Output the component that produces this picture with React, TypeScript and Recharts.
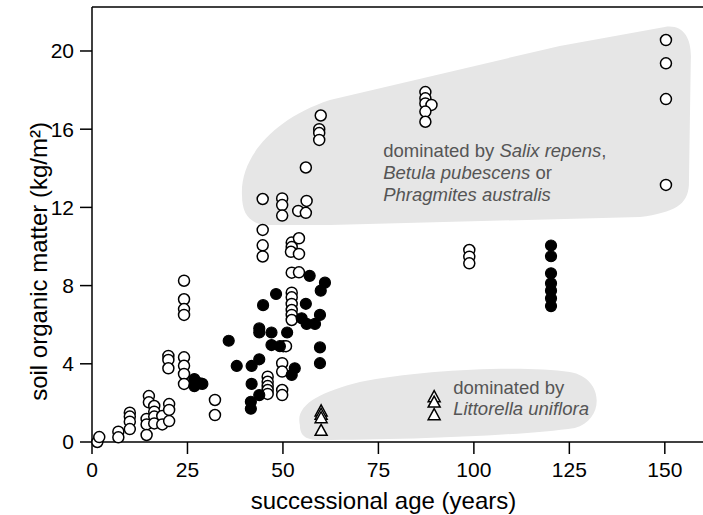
import React from 'react';
import { ScatterChart, Scatter, XAxis, YAxis, ReferenceArea, ReferenceLine } from 'recharts';

// ---- axes ----
const X_TICKS = [0, 25, 50, 75, 100, 125, 150];
const Y_TICKS = [0, 4, 8, 12, 16, 20];
const X_MAX = 160;
const Y_MAX = 22.25;

// ---- data: [successional age (years), soil organic matter (kg/m2)] ----
const openCircles: [number, number][] = [
  [1.4, 0.0], [1.9, 0.25], [6.9, 0.53], [6.9, 0.24],
  [9.9, 1.5], [9.9, 1.3], [9.9, 1.04], [9.9, 0.66],
  [14.9, 2.35], [14.9, 2.03], [14.3, 1.18], [14.3, 0.9], [14.3, 0.36],
  [16.3, 1.84], [16.3, 1.55], [16.3, 1.3], [16.3, 0.95],
  [18.4, 1.33], [18.4, 0.9],
  [20.2, 1.94], [20.2, 1.64], [20.2, 1.07],
  [20.0, 4.4], [20.0, 4.2], [20.0, 3.77],
  [24.1, 8.25], [24.1, 7.3], [24.1, 6.8], [24.1, 6.5], [24.1, 4.33], [24.1, 3.9], [24.1, 3.48], [24.1, 2.97],
  [32.2, 2.15], [32.2, 1.38],
  [44.7, 12.43], [49.8, 12.46], [49.8, 12.12], [49.8, 11.58], [56.2, 12.33], [54.0, 11.82], [56.0, 11.72],
  [59.9, 16.7], [59.5, 16.0], [59.5, 15.8], [59.5, 15.45], [56.0, 14.04],
  [44.7, 10.85], [44.7, 10.06], [44.7, 9.49],
  [52.3, 10.2], [52.3, 9.97], [52.1, 9.73], [54.2, 10.42], [54.2, 9.62],
  [52.3, 8.66], [54.2, 8.68],
  [52.3, 7.64], [52.3, 7.4], [52.3, 7.06], [52.3, 6.75], [52.3, 6.5], [52.3, 6.24],
  [50.1, 4.9], [50.8, 4.9],
  [49.8, 4.03], [49.8, 3.6],
  [46.0, 3.34], [46.0, 3.08], [46.0, 2.86], [46.0, 2.66], [46.0, 2.46],
  [49.8, 2.66], [49.8, 2.4],
  [87.3, 17.9], [87.3, 17.58], [87.3, 17.32], [88.9, 17.24], [87.3, 16.9], [87.3, 16.38],
  [98.8, 9.82], [98.8, 9.48], [98.8, 9.14],
  [150.3, 20.56], [150.3, 19.37], [150.3, 17.54], [150.3, 13.15],
];

const filledCircles: [number, number][] = [
  [26.8, 3.22], [26.8, 2.86], [28.3, 3.0], [28.9, 2.97],
  [35.8, 5.18], [37.9, 3.89],
  [41.8, 3.89], [41.8, 2.97], [41.6, 2.06], [41.6, 1.7],
  [43.8, 4.23], [43.8, 2.4], [43.8, 5.81], [43.8, 5.6],
  [44.8, 7.0], [48.2, 7.57],
  [47.0, 5.6], [47.0, 4.96], [49.2, 4.9], [51.1, 5.6],
  [53.1, 3.77], [52.3, 3.43],
  [57.0, 8.5], [61.0, 8.15], [59.9, 7.74], [56.0, 7.07],
  [59.7, 6.5], [54.9, 6.33], [56.2, 6.04], [58.4, 6.04],
  [59.7, 4.84], [59.7, 4.03],
  [120.2, 10.05], [120.2, 9.5], [120.2, 8.63], [120.2, 8.12], [120.2, 7.74], [120.2, 7.35], [120.2, 6.95],
];

const triangles: [number, number][] = [
  [60.0, 1.59], [60.0, 1.42], [60.0, 1.24], [60.0, 0.6],
  [89.6, 2.32], [89.6, 2.04], [89.6, 1.4],
];

// ---- shaded regions (data coordinates) ----
type Seg = [string, ...[number, number][]];
const upperBlob: Seg[] = [
  ['M', [39.27, 12.63]],
  ['C', [38.74, 14.42], [46.6, 16.47], [62.3, 17.49]],
  ['L', [122.5, 20.26]],
  ['L', [150.0, 21.23]],
  ['C', [155.2, 21.38], [157.1, 20.56], [156.8, 19.54]],
  ['L', [156.3, 13.15]],
  ['C', [156.0, 12.12], [152.6, 11.76], [143.5, 11.51]],
  ['L', [62.3, 11.1]],
  ['L', [46.6, 11.1]],
  ['C', [41.4, 11.1], [39.27, 11.61], [39.27, 12.63]],
];
const lowerBlob: Seg[] = [
  ['M', [54.45, 0.87]],
  ['C', [53.14, 1.89], [59.69, 2.56], [70.16, 3.07]],
  ['C', [85.86, 3.68], [112.04, 3.94], [125.13, 3.58]],
  ['C', [134.29, 3.27], [134.29, 1.13], [126.44, 0.72]],
  ['C', [112.04, 0.31], [80.63, 0.1], [59.69, 0.1]],
  ['C', [55.76, 0.1], [54.45, 0.36], [54.45, 0.87]],
];

const FONT = '"Liberation Sans", Arial, Helvetica, sans-serif';

const toData = (arr: [number, number][]) => arr.map(([age, som]) => ({ age, som }));

const OpenCircle = (p: any) => (
  <circle cx={p.cx} cy={p.cy} r={5.5} fill="#fff" stroke="#000" strokeWidth={1.5} />
);
const FilledCircle = (p: any) => (
  <circle cx={p.cx} cy={p.cy} r={5.5} fill="#000" stroke="#000" strokeWidth={1.2} />
);
const Triangle = (p: any) => (
  <path
    d={`M${p.cx},${p.cy - 6} L${p.cx + 6},${p.cy + 5} L${p.cx - 6},${p.cy + 5} Z`}
    fill="#fff"
    stroke="#000"
    strokeWidth={1.5}
    strokeLinejoin="miter"
  />
);

const Regions = (props: any) => {
  const { x, y, width, height } = props;
  const sx = (v: number) => x + (v / X_MAX) * width;
  const sy = (v: number) => y + ((Y_MAX - v) / Y_MAX) * height;
  const toPath = (segs: Seg[]) =>
    segs
      .map(([cmd, ...pts]) => cmd + pts.map(([a, b]) => `${sx(a).toFixed(1)},${sy(b).toFixed(1)}`).join(' '))
      .join(' ') + ' Z';
  const ts = { fontSize: 18.5, fill: '#555', fontFamily: FONT };
  return (
    <g>
      <path d={toPath(upperBlob)} fill="#e6e6e6" stroke="none" />
      <path d={toPath(lowerBlob)} fill="#e6e6e6" stroke="none" />
      <text x={sx(76.26)} y={sy(14.56)} {...ts}>
        dominated by <tspan fontStyle="italic">Salix repens</tspan>,
      </text>
      <text x={sx(76.26)} y={sy(13.45)} {...ts}>
        <tspan fontStyle="italic">Betula pubescens</tspan> or
      </text>
      <text x={sx(76.26)} y={sy(12.34)} {...ts}>
        <tspan fontStyle="italic">Phragmites australis</tspan>
      </text>
      <text x={sx(94.58)} y={sy(2.44)} {...ts}>dominated by</text>
      <text x={sx(94.58)} y={sy(1.38)} {...ts}>
        <tspan fontStyle="italic">Littorella uniflora</tspan>
      </text>
    </g>
  );
};

const YLabel = (p: any) => {
  const vb = p.viewBox || { x: 0, y: 7, width: 92, height: 435 };
  const cx = vb.x + 38;
  const cy = vb.y + vb.height / 2 + 37;
  return (
    <text
      x={cx}
      y={cy}
      transform={`rotate(-90 ${cx} ${cy})`}
      textAnchor="middle"
      dominantBaseline="central"
      fontSize={24}
      fontFamily={FONT}
      fill="#000"
    >
      soil organic matter (kg/m²)
    </text>
  );
};

const XLabel = (p: any) => {
  const vb = p.viewBox || { x: 92, y: 442, width: 611, height: 73 };
  const cx = vb.x + vb.width / 2 - 14;
  const cy = vb.y + 67;
  return (
    <text x={cx} y={cy} textAnchor="middle" fontSize={24} fontFamily={FONT} fill="#000">
      successional age (years)
    </text>
  );
};

export default function App() {
  const axisStyle = { stroke: '#000', strokeWidth: 1.5 };
  return (
    <div style={{ position: 'absolute', left: 0, top: 0, width: 703, height: 515, background: '#fff' }}>
      <ScatterChart width={703} height={515} margin={{ top: 7, right: 0, bottom: 0, left: 0 }}>
        <ReferenceArea x1={0} x2={X_MAX} y1={0} y2={Y_MAX} shape={<Regions />} ifOverflow="visible" />
        <XAxis
          type="number"
          dataKey="age"
          domain={[0, X_MAX]}
          ticks={X_TICKS}
          height={73}
          tickSize={12}
          tickMargin={8}
          axisLine={axisStyle}
          tickLine={axisStyle}
          tick={{ fill: '#000', fontSize: 21, fontFamily: FONT }}
          interval={0}
          label={{ content: <XLabel /> }}
        />
        <YAxis
          type="number"
          dataKey="som"
          domain={[0, Y_MAX]}
          ticks={Y_TICKS}
          width={92}
          tickSize={12}
          tickMargin={6}
          axisLine={axisStyle}
          tickLine={axisStyle}
          tick={{ fill: '#000', fontSize: 21, fontFamily: FONT }}
          interval={0}
          label={{ content: <YLabel /> }}
        />
        <ReferenceLine y={Y_MAX} stroke="#000" strokeWidth={1.5} ifOverflow="visible" />
        <Scatter data={toData(openCircles)} shape={<OpenCircle />} isAnimationActive={false} />
        <Scatter data={toData(filledCircles)} shape={<FilledCircle />} isAnimationActive={false} />
        <Scatter data={toData(triangles)} shape={<Triangle />} isAnimationActive={false} />
      </ScatterChart>
    </div>
  );
}
